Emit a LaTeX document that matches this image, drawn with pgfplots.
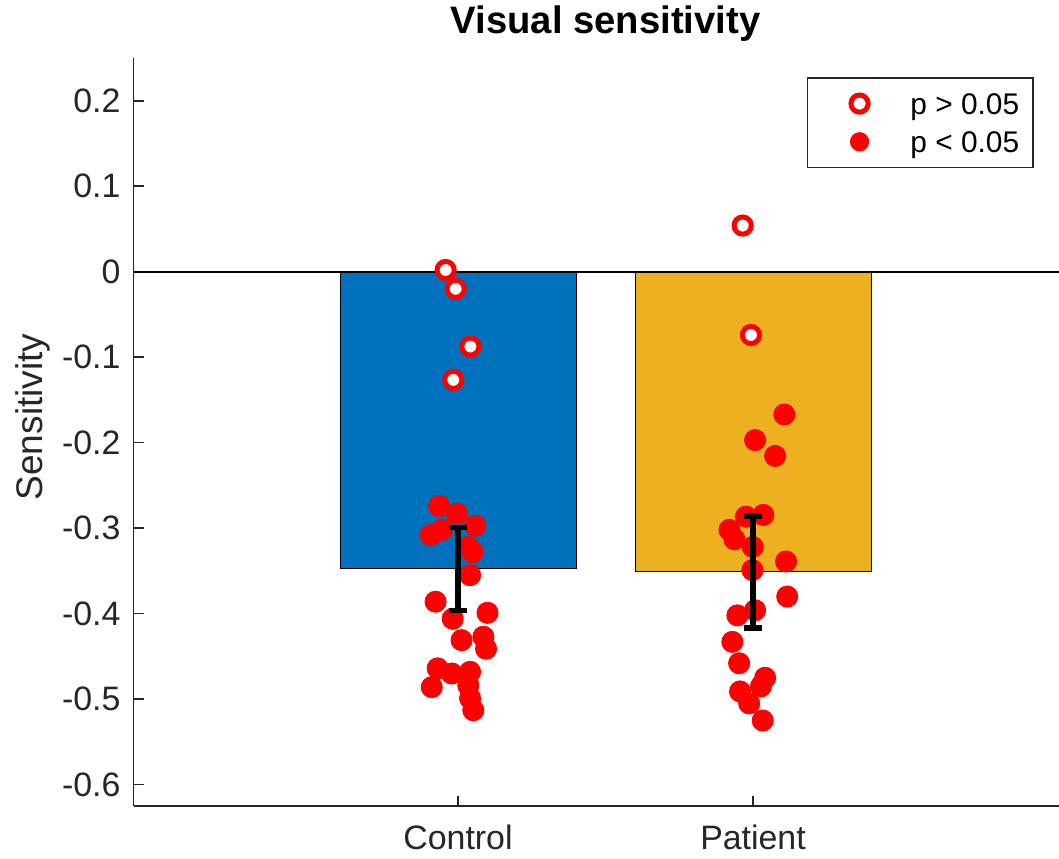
\documentclass[border=0pt]{standalone}
\usepackage{pgfplots}
\pgfplotsset{compat=1.18}
\usepackage{fontspec}
\setmainfont{Liberation Sans}
\definecolor{barblue}{RGB}{0,114,189}
\definecolor{baryellow}{RGB}{237,177,32}
\definecolor{axisgray}{RGB}{38,38,38}

\pgfplotsset{
  open subject/.style={only marks, color=red, mark=*, mark size=4.3bp,
    mark options={draw=red, fill=white, line width=2.5bp}},
  filled subject/.style={only marks, color=red, mark=*, mark size=5.3bp,
    mark options={draw=red, fill=red, line width=0.4bp}},
  open legend/.style={legend image code/.code={%
    \draw[##1, only marks] plot coordinates {(20.6bp,0bp)};
    \path (0bp,0bp) (36bp,0bp);}},
  filled legend/.style={legend image code/.code={%
    \draw[##1, only marks, mark size=4.6bp] plot coordinates {(20.6bp,0bp)};
    \path (0bp,0bp) (36bp,0bp);}},
}

\begin{document}
\begin{tikzpicture}
\begin{axis}[
  name=ax,
  set layers,
  scale only axis,
  width=472bp, height=374bp,
  xmin=-0.1, xmax=3.1,
  ymin=-0.625, ymax=0.25,
  axis x line*=bottom, axis y line*=left,
  axis line style={axisgray, line width=0.8bp, -},
  tick align=inside,
  major tick length=5bp,
  tick style={axisgray, line width=0.8bp},
  xtick={1,2}, xticklabels={Control,Patient},
  ytick={-0.6,-0.5,-0.4,-0.3,-0.2,-0.1,0,0.1,0.2},
  yticklabels={-0.6,-0.5,-0.4,-0.3,-0.2,-0.1,0,0.1,0.2},
  tick label style={font=\fontsize{17}{19}\selectfont, text=axisgray},
  xticklabel style={yshift=-6.2bp},
  yticklabel style={xshift=-3bp},
  title={Visual sensitivity},
  title style={font=\bfseries\fontsize{19.2}{21}\selectfont, at={(0.5,1)}, anchor=base, yshift=6.5bp},
  ylabel={Sensitivity},
  ylabel style={font=\fontsize{18.6}{20}\selectfont, text=axisgray, at={(axis description cs:-0.0965,0.52)}, anchor=base},
  legend style={at={(1,1)}, anchor=north east, xshift=-21.75bp, yshift=-9.5bp,
    draw=axisgray, line width=0.8bp, fill=white,
    font=\fontsize{15}{17}\selectfont,
    inner xsep=5bp, inner ysep=5.5bp, row sep=4.3bp, column sep=7.6bp,
    nodes={text height=10.8bp, text depth=0bp, inner ysep=2bp}},
  legend cell align=left,
]
% bars (group means)
\addplot[ybar, bar width=0.8, bar shift=0pt, fill=barblue, draw=black, line width=0.5bp, forget plot]
  coordinates {(1,-0.347)};
\addplot[ybar, bar width=0.8, bar shift=0pt, fill=baryellow, draw=black, line width=0.5bp, forget plot]
  coordinates {(2,-0.351)};
% baseline
\addplot[black, line width=0.8bp, forget plot] coordinates {(-0.1,0) (3.1,0)};

% individual subjects, control group
\addplot[open subject, open legend]
  coordinates {(0.958,0.002) (0.992,-0.020) (1.042,-0.0875) (0.984,-0.1265)};
\addlegendentry{p > 0.05}
\addplot[filled subject, filled legend]
  coordinates {
    (0.936,-0.274) (0.996,-0.283) (1.058,-0.297) (0.907,-0.308) (0.945,-0.302)
    (1.035,-0.322) (1.050,-0.328) (1.041,-0.355) (0.924,-0.386) (0.982,-0.406)
    (1.100,-0.399) (1.012,-0.431) (1.086,-0.427) (1.095,-0.441) (0.931,-0.464)
    (0.911,-0.486) (0.979,-0.470) (1.041,-0.468) (1.035,-0.484) (1.041,-0.499)
    (1.052,-0.513)};
\addlegendentry{p < 0.05}

% individual subjects, patient group
\addplot[open subject, forget plot]
  coordinates {(1.965,0.054) (1.993,-0.074)};
\addplot[filled subject, forget plot]
  coordinates {
    (2.106,-0.167) (2.007,-0.197) (2.075,-0.2155) (1.976,-0.2865) (2.035,-0.2845)
    (1.920,-0.302) (1.937,-0.313) (1.999,-0.322) (2.112,-0.339) (1.998,-0.349)
    (2.116,-0.380) (2.007,-0.396) (1.947,-0.402) (1.930,-0.433) (1.953,-0.458)
    (2.041,-0.475) (2.027,-0.485) (1.956,-0.491) (1.987,-0.505) (2.033,-0.525)};

% standard errors, drawn above the subject markers
\addplot[forget plot, on layer=axis foreground, draw=none, mark=none,
  error bars/.cd, y dir=both, y explicit,
  error bar style={draw=black, line width=3bp},
  error mark options={rotate=90, mark size=4.5bp, line width=2.7bp, draw=black}]
  coordinates {(1,-0.3475) +- (0,0.0485) (2,-0.3515) +- (0,0.0655)};
\end{axis}
\pgfresetboundingbox
\path ([xshift=-66.75bp,yshift=-26.5bp]ax.south west) rectangle ([xshift=462.75bp,yshift=29bp]ax.north west);
\end{tikzpicture}
\end{document}
